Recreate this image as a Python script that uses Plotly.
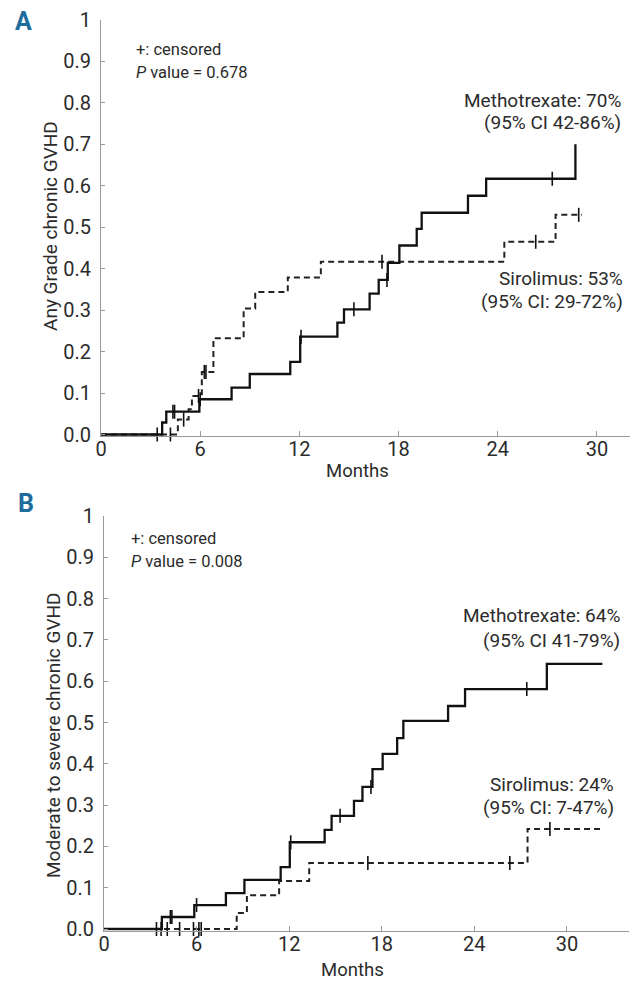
import plotly.graph_objects as go

# ---------------- data ----------------
# Panel A: any grade chronic GVHD (cumulative incidence, step curves)
a_mtx_t = [0, 3.7, 3.95, 5.95, 7.9, 9.0, 11.45, 12.05, 14.3, 14.7, 16.25, 16.8, 17.35, 18.05, 19.1, 19.4, 22.2, 23.3, 28.7]
a_mtx_y = [0, 0.029, 0.055, 0.085, 0.113, 0.146, 0.175, 0.236, 0.270, 0.302, 0.340, 0.373, 0.414, 0.456, 0.496, 0.535, 0.576, 0.617, 0.700]
a_mtx_cens = [3.4, 4.35, 4.45, 6.0, 12.1, 15.3, 17.3, 27.3]

a_sir_t = [0, 4.65, 5.3, 5.5, 6.1, 6.8, 8.63, 9.33, 11.3, 13.3, 24.4, 27.5, 29.1]
a_sir_y = [0, 0.036, 0.061, 0.093, 0.151, 0.232, 0.304, 0.344, 0.379, 0.417, 0.465, 0.530, 0.530]
a_sir_cens = [4.2, 5.0, 5.9, 6.25, 6.35, 17.0, 26.3, 28.9]

# Panel B: moderate to severe chronic GVHD
b_mtx_t = [0, 3.75, 5.85, 7.9, 9.1, 11.45, 12.04, 14.3, 14.75, 16.2, 16.75, 17.4, 18.06, 19.0, 19.4, 22.3, 23.4, 28.7, 32.3]
b_mtx_y = [0, 0.029, 0.058, 0.087, 0.119, 0.150, 0.210, 0.240, 0.274, 0.310, 0.344, 0.387, 0.424, 0.462, 0.504, 0.540, 0.581, 0.642, 0.642]
b_mtx_cens = [3.4, 4.3, 4.4, 6.0, 12.1, 15.3, 17.3, 27.4]

b_sir_t = [0, 8.6, 9.26, 11.35, 13.3, 27.45, 32.2]
b_sir_y = [0, 0.039, 0.082, 0.116, 0.160, 0.242, 0.242]
b_sir_cens = [3.7, 4.1, 4.9, 5.8, 6.15, 6.3, 17.1, 26.3, 28.9]

y_tickvals = [0, 0.1, 0.2, 0.3, 0.4, 0.5, 0.6, 0.7, 0.8, 0.9, 1]
y_ticktext = ["0.0", "0.1", "0.2", "0.3", "0.4", "0.5", "0.6", "0.7", "0.8", "0.9", "1"]
x_tickvals = [0, 6, 12, 18, 24, 30]

# ---------------- helpers ----------------
W, H = 636, 981
FONT = "Roboto, Liberation Sans, sans-serif"
TXT = "#2b2b2b"
AX = "#9a9a9a"


def step_at(ts, ys, t):
    v = ys[0]
    for ti, yi in zip(ts, ys):
        if ti <= t:
            v = yi
    return v


def px_x(p):
    return p / W


def px_y(p):
    return 1 - p / H


fig = go.Figure()


def add_panel(xa, ya, mt, my, mc, st, sy, sc):
    fig.add_trace(go.Scatter(x=st, y=sy, mode="lines", line=dict(color="#222", width=2, dash="6px,4px", shape="hv"),
                             xaxis=xa, yaxis=ya, showlegend=False, hoverinfo="skip"))
    fig.add_trace(go.Scatter(x=mt, y=my, mode="lines", line=dict(color="#111", width=2.3, shape="hv"),
                             xaxis=xa, yaxis=ya, showlegend=False, hoverinfo="skip"))
    fig.add_trace(go.Scatter(x=sc, y=[step_at(st, sy, t) for t in sc], mode="markers",
                             marker=dict(symbol="line-ns", size=10, line=dict(width=1.6, color="#111")),
                             xaxis=xa, yaxis=ya, showlegend=False, hoverinfo="skip", cliponaxis=False))
    fig.add_trace(go.Scatter(x=mc, y=[step_at(mt, my, t) for t in mc], mode="markers",
                             marker=dict(symbol="line-ns", size=10, line=dict(width=1.6, color="#111")),
                             xaxis=xa, yaxis=ya, showlegend=False, hoverinfo="skip", cliponaxis=False))


add_panel("x", "y", a_mtx_t, a_mtx_y, a_mtx_cens, a_sir_t, a_sir_y, a_sir_cens)
add_panel("x2", "y2", b_mtx_t, b_mtx_y, b_mtx_cens, b_sir_t, b_sir_y, b_sir_cens)

YPAD = 0.004
TICKSIZE = 20


def axes(x0, xmax, ppm, y0, y1):
    xdom = [px_x(x0), px_x(x0 + xmax * ppm)]
    ppu = y0 - y1
    ydom = [px_y(y0 + YPAD * ppu), px_y(y1)]
    xa = dict(domain=xdom, range=[0, xmax], tickvals=x_tickvals, ticks="inside", ticklen=5, tickcolor=AX,
              showline=True, linecolor=AX, linewidth=1, showgrid=False, zeroline=False, automargin=False,
              tickfont=dict(family=FONT, size=TICKSIZE, color=TXT), fixedrange=True, ticklabelstandoff=-5)
    ya = dict(domain=ydom, range=[-YPAD, 1], tickvals=y_tickvals, ticktext=y_ticktext, ticks="inside", ticklen=4,
              tickcolor=AX, showline=True, linecolor=AX, linewidth=1, showgrid=False, zeroline=False,
              automargin=False,
              tickfont=dict(family=FONT, size=TICKSIZE, color=TXT), fixedrange=True, ticklabelstandoff=5)
    return xa, ya


xa1, ya1 = axes(101, 32, 16.53, 434.5, 20)
xa2, ya2 = axes(104, 34, 15.43, 929, 516)
ya1["anchor"] = "x"
xa1["anchor"] = "y"
ya2["anchor"] = "x2"
xa2["anchor"] = "y2"

annotations = []


def txt(text, x, y, xanchor="left", size=19, color=TXT, bold=False, angle=0):
    annotations.append(dict(text=text, x=px_x(x), y=px_y(y), xref="paper", yref="paper", xanchor=xanchor,
                            yanchor="middle", showarrow=False, textangle=angle,
                            font=dict(family=FONT, size=size, color=color, weight="bold" if bold else "normal")))


BLUE = "#1d6c9c"
txt("A", 23, 22, xanchor="center", size=25, color=BLUE, bold=True)
txt("B", 26, 503, xanchor="center", size=25, color=BLUE, bold=True)

SMALL = 16.5
txt("+: censored", 134, 49, size=SMALL)
txt("<i>P</i> value = 0.678", 134, 72, size=SMALL)
txt("+: censored", 129, 538, size=SMALL)
txt("<i>P</i> value = 0.008", 129, 561, size=SMALL)

BIG = 19
txt("Methotrexate: 70%", 623, 100, xanchor="right", size=BIG)
txt("(95% CI 42-86%)", 623, 123, xanchor="right", size=BIG)
txt("Sirolimus: 53%", 625, 278, xanchor="right", size=BIG)
txt("(95% CI: 29-72%)", 625, 302, xanchor="right", size=BIG)

txt("Methotrexate: 64%", 622, 615, xanchor="right", size=BIG)
txt("(95% CI 41-79%)", 622, 640, xanchor="right", size=BIG)
txt("Sirolimus: 24%", 616, 784, xanchor="right", size=BIG)
txt("(95% CI: 7-47%)", 616, 807, xanchor="right", size=BIG)

txt("Months", 357, 471, xanchor="center", size=18.5)
txt("Months", 352, 970, xanchor="center", size=18.5)
txt("Any Grade chronic GVHD", 50, 226, xanchor="center", size=19, angle=-90)
txt("Moderate to severe chronic GVHD", 53, 735, xanchor="center", size=19, angle=-90)

fig.update_layout(width=W, height=H, margin=dict(l=0, r=0, t=0, b=0, pad=0, autoexpand=False),
                  paper_bgcolor="white", plot_bgcolor="white",
                  xaxis=xa1, yaxis=ya1, xaxis2=xa2, yaxis2=ya2, annotations=annotations, showlegend=False,
                  font=dict(family=FONT, color=TXT))

fig.write_html("out.html", config={"displayModeBar": False, "responsive": False},
               post_script="document.body.style.margin='0';document.body.style.padding='0';"
                           "document.documentElement.style.overflow='hidden';")
